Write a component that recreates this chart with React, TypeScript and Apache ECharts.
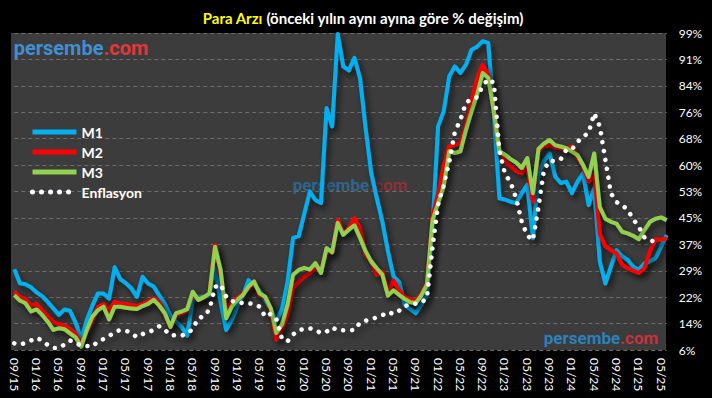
import React, { useEffect, useRef } from "react";
import * as echarts from "echarts";

// Y axis: 6% .. 99% in 12 steps of 7.75 points
const AXIS_BASE = 6;
const AXIS_STEP = 7.75;
const AXIS_STEPS = 12;

// monthly categories 09/15 .. 06/25
const START_YEAR = 2015;
const START_MONTH = 9;
const MONTH_COUNT = 118;
const categories: string[] = [];
for (let k = 0; k < MONTH_COUNT; k++) {
  const t = START_MONTH - 1 + k;
  const m = (t % 12) + 1;
  const y = START_YEAR + Math.floor(t / 12);
  categories.push(String(m).padStart(2, "0") + "/" + String(y % 100).padStart(2, "0"));
}

const m1 = [
  29.7, 25.6, 25.3, 24.4, 22.9, 21.8, 20.1, 18.2, 16.3, 17.9, 17.5, 14.0, 9.1, 14.8, 19.0, 22.6,
  22.6, 21.1, 30.3, 26.8, 25.6, 24.1, 21.6, 27.5, 25.5, 24.6, 22.0, 19.5, 16.0, 14.3, 12.8, 10.2,
  20.7, 21.6, 21.6, 22.0, 30.0, 20.0, 11.9, 14.8, 18.7, 22.0, 26.5, 25.0, 23.5, 20.5, 18.0, 14.4,
  18.0, 26.0, 38.9, 39.4, 46.0, 52.5, 50.0, 49.1, 77.0, 71.6, 98.7, 89.2, 88.0, 91.7, 85.8, 71.1,
  58.0, 50.6, 43.7, 35.0, 27.6, 26.0, 19.3, 18.0, 16.8, 19.3, 22.2, 41.8, 71.6, 76.0, 86.3, 89.2,
  87.3, 89.7, 94.1, 95.0, 96.6, 96.1, 75.0, 50.5, 50.1, 49.5, 49.1, 52.0, 54.5, 38.8, 57.5, 61.5,
  63.7, 56.9, 55.0, 55.4, 52.0, 55.4, 57.8, 48.5, 53.4, 31.9, 25.5, 30.5, 35.3, 33.5, 32.4, 30.4,
  29.5, 31.4, 32.0, 33.0, 36.3, 39.7,
];

const m2 = [
  23.1, 21.6, 21.0, 19.0, 19.5, 17.7, 16.0, 14.2, 13.6, 13.2, 12.2, 10.8, 8.0, 11.5, 14.8, 18.7,
  19.5, 17.5, 20.2, 19.7, 19.5, 19.2, 18.9, 19.5, 20.2, 21.2, 20.0, 16.5, 12.8, 16.3, 16.8, 17.7,
  22.6, 20.7, 21.5, 22.6, 36.8, 28.0, 16.8, 20.2, 21.2, 22.5, 24.1, 26.1, 22.1, 21.6, 17.7, 9.0,
  12.0, 16.4, 24.2, 26.0, 27.5, 28.5, 30.1, 29.1, 35.4, 34.5, 44.2, 40.3, 41.8, 44.7, 41.8, 34.0,
  32.0, 28.0, 29.0, 23.0, 26.4, 23.5, 21.5, 21.0, 20.3, 22.5, 25.5, 45.0, 52.0, 60.0, 65.8, 66.1,
  66.7, 72.1, 78.9, 85.8, 89.7, 86.8, 76.0, 64.8, 61.4, 59.9, 58.5, 57.9, 60.3, 49.5, 64.5, 66.0,
  66.1, 65.5, 65.2, 65.2, 65.7, 62.5, 60.0, 55.4, 57.8, 40.0, 36.5, 35.3, 34.3, 31.0, 30.0, 29.3,
  28.6, 30.0, 35.0, 38.5, 38.3, 38.8,
];

const m3 = [
  22.1, 20.5, 19.7, 17.3, 17.9, 16.3, 14.3, 11.9, 12.4, 12.1, 10.9, 9.7, 7.0, 11.9, 15.8, 17.7,
  18.7, 15.0, 18.7, 18.7, 18.4, 18.2, 18.0, 18.9, 19.5, 20.7, 19.0, 16.8, 12.8, 16.8, 17.3, 18.0,
  23.1, 20.7, 21.5, 22.6, 36.3, 29.5, 15.3, 18.7, 20.7, 22.1, 24.6, 26.1, 22.6, 21.6, 18.2, 11.0,
  13.5, 19.3, 28.1, 29.5, 30.1, 29.6, 31.5, 28.6, 35.9, 34.7, 43.3, 39.8, 41.3, 42.6, 38.9, 35.0,
  32.0, 30.0, 28.1, 22.0, 23.5, 22.2, 21.0, 20.0, 19.8, 22.0, 25.2, 44.0, 49.0, 54.0, 64.3, 63.8,
  64.3, 70.6, 76.0, 81.0, 87.3, 85.8, 76.0, 64.3, 63.3, 62.0, 61.0, 59.4, 62.3, 52.0, 65.0, 66.6,
  67.6, 66.1, 65.7, 65.2, 64.2, 63.2, 60.3, 56.8, 63.7, 48.0, 44.5, 43.6, 43.1, 40.7, 40.2, 39.5,
  38.5, 41.2, 43.6, 44.5, 44.9, 44.1,
];

// annual CPI inflation, 09/15 .. 04/25
const enflasyon = [
  7.95, 7.58, 8.1, 8.81,
  9.58, 8.78, 7.46, 6.57, 6.58, 7.64, 8.79, 8.05, 7.28, 7.16, 7.0, 8.53,
  9.22, 10.13, 11.29, 11.87, 11.72, 10.9, 9.79, 10.68, 11.2, 11.9, 12.98, 11.92,
  10.35, 10.26, 10.23, 10.85, 12.15, 15.39, 15.85, 17.9, 24.52, 25.24, 21.62, 20.3,
  20.35, 19.67, 19.71, 19.5, 18.71, 15.72, 16.65, 15.01, 9.26, 8.55, 10.56, 11.84,
  12.15, 12.37, 11.86, 10.94, 11.39, 12.62, 11.76, 11.77, 11.75, 11.89, 14.03, 14.6,
  14.97, 15.61, 16.19, 17.14, 16.59, 17.53, 18.95, 19.25, 19.58, 19.89, 21.31, 36.08,
  48.69, 54.44, 61.14, 69.97, 73.5, 78.62, 79.6, 80.21, 83.45, 85.51, 84.39, 64.27,
  57.68, 55.18, 50.51, 43.68, 39.59, 38.21, 47.83, 58.94, 61.53, 61.36, 61.98, 64.77,
  64.86, 67.07, 68.5, 69.8, 75.45, 71.6, 61.78, 51.97, 49.38, 48.58, 47.09, 44.38,
  42.12, 39.05, 38.1, 37.86,
];

const seriesNames = ["M1", "M2", "M3", "Enflasyon"];
const seriesColors = ["#00b0f0", "#ff0000", "#92d050", "#ffffff"];

const toAxis = (arr: number[]) => arr.map((v) => +(v - AXIS_BASE).toFixed(3));

const FONT = "Lato, 'Open Sans', sans-serif";

const shadow = {
  shadowColor: "rgba(0,0,0,0.65)",
  shadowBlur: 6,
  shadowOffsetX: 3,
  shadowOffsetY: 4,
};

function watermark(x: number, y: number, size: number, blue: string, red: string) {
  return {
    type: "text",
    x,
    y,
    z: 1,
    silent: true,
    style: {
      text: "{b|persembe}{r|.com}",
      align: "center",
      verticalAlign: "middle",
      rich: {
        b: { fill: blue, fontSize: size, fontWeight: "bold", fontFamily: "Roboto" },
        r: { fill: red, fontSize: size, fontWeight: "bold", fontFamily: "Roboto" },
      },
    },
  };
}

export default function App() {
  const ref = useRef<HTMLDivElement>(null);

  useEffect(() => {
    document.body.style.margin = "0";
    document.body.style.background = "#000";
    if (!ref.current) return;
    const chart = echarts.init(ref.current, undefined, { renderer: "svg" });

    const datasets = [m1, m2, m3, enflasyon];
    const widths = [4, 4, 4, 4.5];

    const option: any = {
      animation: false,
      backgroundColor: "#000000",
      graphic: [
        {
          type: "rect",
          z: -100,
          silent: true,
          shape: { x: 11, y: 33, width: 655, height: 317 },
          style: { fill: "#3c3c3c" },
        },
        {
          type: "text",
          x: 363,
          y: 18,
          silent: true,
          style: {
            text: "{a|Para Arzı}{b| (önceki yılın aynı ayına göre % değişim)}",
            align: "center",
            verticalAlign: "middle",
            rich: {
              a: { fill: "#ffff00", fontSize: 15, fontWeight: "bold", fontFamily: FONT },
              b: { fill: "#ffffff", fontSize: 15, fontWeight: "bold", fontFamily: FONT },
            },
          },
        },
        watermark(81, 48, 20, "#3f8fd2", "#e0383a"),
        watermark(350, 185, 17, "rgba(40,120,180,0.7)", "rgba(190,40,55,0.65)"),
        watermark(601, 338, 17, "#2b80bd", "#c8323c"),
      ],
      legend: {
        orient: "vertical",
        left: 30,
        top: 125,
        padding: 0,
        itemWidth: 44,
        itemHeight: 12,
        itemGap: 6,
        data: seriesNames,
        itemStyle: { opacity: 0 },
        lineStyle: { width: 5 },
        textStyle: { color: "#ffffff", fontSize: 14, fontWeight: "bold", fontFamily: FONT },
      },
      grid: { left: 14.3, right: 45.3, top: 33, bottom: 48, containLabel: false },
      xAxis: {
        type: "category",
        data: categories,
        boundaryGap: false,
        axisLine: { show: false },
        axisTick: { show: false },
        splitLine: { show: false },
        axisLabel: {
          interval: 3,
          rotate: -90,
          color: "#ffffff",
          fontSize: 12,
          fontFamily: FONT,
          margin: 8,
        },
      },
      yAxis: {
        type: "value",
        position: "right",
        min: 0,
        max: AXIS_STEP * AXIS_STEPS,
        interval: AXIS_STEP,
        axisLine: { show: false },
        axisTick: { show: false },
        axisLabel: {
          color: "#ffffff",
          fontSize: 12,
          fontFamily: FONT,
          margin: 12,
          formatter: (v: number) => Math.round(v + AXIS_BASE) + "%",
        },
        splitLine: { lineStyle: { color: "#6e6e6e", width: 1, type: [4, 3] } },
      },
      series: seriesNames.map((name, i) => ({
        name,
        type: "line",
        data: toAxis(datasets[i]),
        symbol: "none",
        z: 2 + i,
        itemStyle: { color: seriesColors[i] },
        lineStyle:
          i === 3
            ? { color: seriesColors[i], width: widths[i], type: [0.01, 9], cap: "round", ...shadow }
            : { color: seriesColors[i], width: widths[i], join: "round", ...shadow },
        emphasis: { disabled: true },
      })),
    };

    chart.setOption(option);
    return () => chart.dispose();
  }, []);

  return <div ref={ref} style={{ width: 712, height: 398 }} />;
}
